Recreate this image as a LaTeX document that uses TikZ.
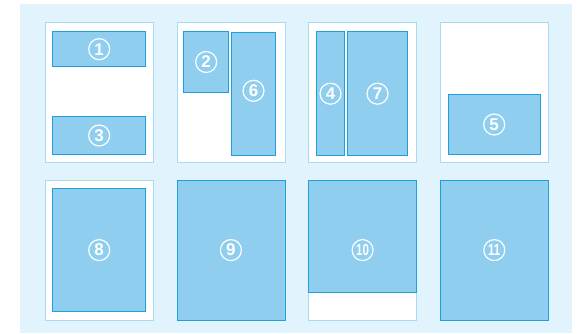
\documentclass[tikz,border=0pt]{standalone}
\usepackage{fontspec}
\setsansfont{Liberation Sans}
\usetikzlibrary{positioning}
\definecolor{bgblue}{HTML}{E1F3FC}
\definecolor{pageline}{HTML}{A8DAF2}
\definecolor{panefill}{HTML}{90CEEF}
\definecolor{paneline}{HTML}{1FA0DC}
\tikzset{
  page/.style={
    rectangle, draw=pageline, fill=white, line width=0.8pt,
    minimum width=108pt, minimum height=140pt, inner sep=0pt
  },
  pane/.style={
    rectangle, draw=paneline, fill=panefill, line width=0.8pt,
    inner sep=0pt
  },
  num/.style={
    circle, draw=white, line width=1.2pt, text=white,
    minimum size=21pt, inner sep=0pt, font=\sffamily\bfseries\fontsize{17}{17}\selectfont
  },
  numwide/.style={num, font=\sffamily\bfseries\fontsize{16}{16}\selectfont}
}
\begin{document}
\begin{tikzpicture}[x=1pt, y=-1pt, node distance=17pt and 22.9pt]
  \useasboundingbox (0,0) rectangle (582,334);
  \fill[bgblue] (20,4) rectangle (572,333);

  % top row of pages
  \node[page] (p1) at (99.2,92.3) {};
  \node[page, right=of p1] (p2) {};
  \node[page, right=of p2] (p3) {};
  \node[page, right=of p3] (p4) {};
  % bottom row of pages
  \node[page, below=of p1] (p5) {};
  \node[page, below=of p2] (p6) {};
  \node[page, below=of p3] (p7) {};
  \node[page, below=of p4] (p8) {};

  % panes
  \node[pane, minimum width=93pt, minimum height=35pt] (b1) at (99.2,49.2) {};
  \node[pane, minimum width=93pt, minimum height=38.4pt] (b3) at (99.2,135.5) {};
  \node[pane, minimum width=45pt, minimum height=60.6pt] (b2) at (206.2,62) {};
  \node[pane, minimum width=44.4pt, minimum height=123pt] (b6) at (253.5,93.8) {};
  \node[pane, minimum width=28.4pt, minimum height=124pt] (b4) at (330.5,93.7) {};
  \node[pane, minimum width=60.4pt, minimum height=124pt] (b7) at (377.5,93.7) {};
  \node[pane, minimum width=92.3pt, minimum height=60.4pt] (b5) at (494.2,124.5) {};
  \node[pane, minimum width=93pt, minimum height=123.3pt] (b8) at (p5) {};
  \node[pane, minimum width=108pt, minimum height=140pt] (b9) at (p6) {};
  \node[pane, minimum width=108pt, minimum height=112pt, anchor=north] (b10) at (p7.north) {};
  \node[pane, minimum width=108pt, minimum height=140pt] (b11) at (p8) {};

  % numbers
  \node[num] (n1) at (b1) {1};
  \node[num] (n2) at (b2) {2};
  \node[num] (n3) at (b3) {3};
  \node[num] (n4) at (b4) {4};
  \node[num] (n5) at (b5) {5};
  \node[num] (n6) at ([yshift=3pt]b6.center) {6};
  \node[num] (n7) at (b7) {7};
  \node[num] (n8) at (b8) {8};
  \node[num] (n9) at (b9) {9};
  \node[numwide] (n10) at (p7) {\scalebox{0.72}[1]{10}};
  \node[numwide] (n11) at (b11) {\scalebox{0.72}[1]{11}};
\end{tikzpicture}
\end{document}
